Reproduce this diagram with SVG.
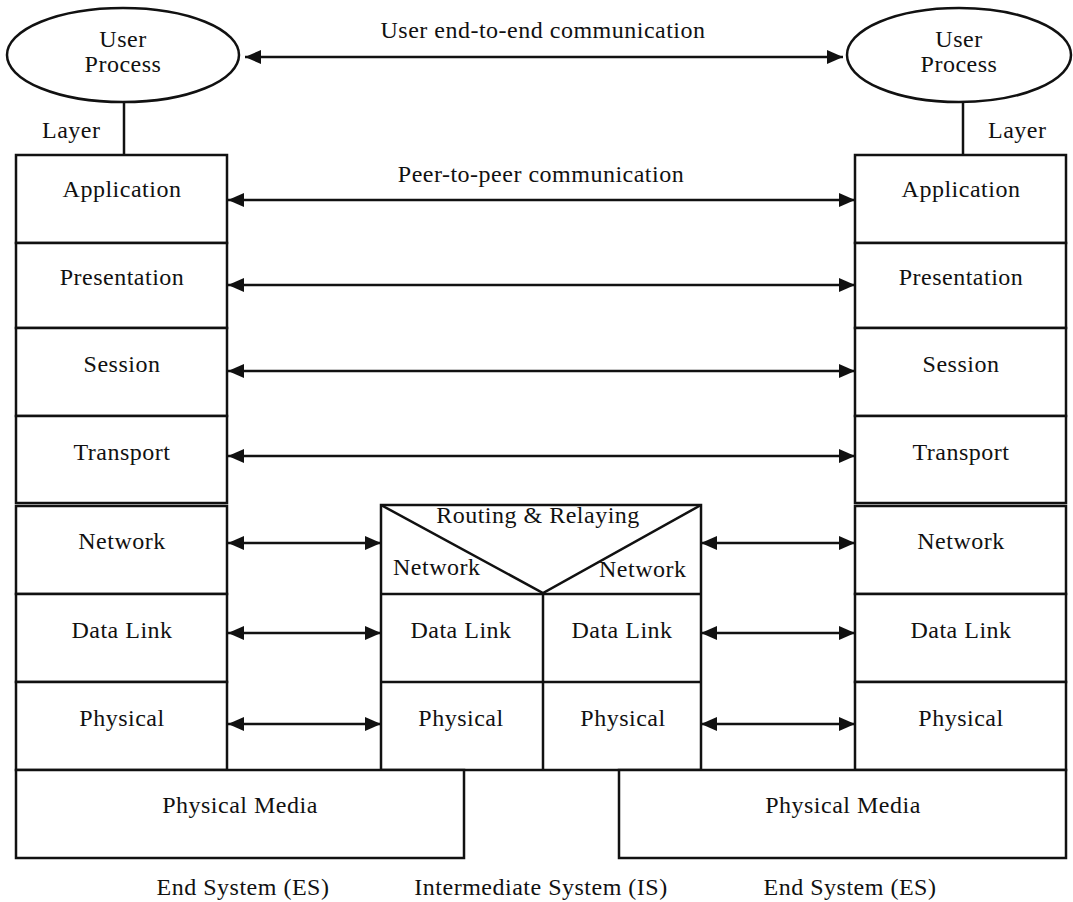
<svg xmlns="http://www.w3.org/2000/svg" width="1073" height="902" viewBox="0 0 1073 902">
  <style>
    text { font-family: "Liberation Serif", "Times New Roman", serif; font-size: 24px; letter-spacing: 0.5px; fill: #111; }
    .c { text-anchor: middle; }
    .box { fill: #fff; stroke: #111; stroke-width: 2.5; }
    .ln { fill: none; stroke: #111; stroke-width: 2.5; }
    .thin { fill: none; stroke: #333; stroke-width: 1.5; }
    .arr { fill: none; stroke: #111; stroke-width: 2.5; marker-start: url(#head); marker-end: url(#head); }
  </style>
  <defs>
    <marker id="head" markerUnits="userSpaceOnUse" markerWidth="18" markerHeight="16" refX="16" refY="7" orient="auto-start-reverse">
      <path d="M0,0 L16,7 L0,14 Z" fill="#111"/>
    </marker>
  </defs>

  <rect width="1073" height="902" fill="#fff"/>

  <!-- user processes -->
  <g id="user-left">
    <ellipse cx="123" cy="55" rx="116" ry="47" class="box"/>
    <text x="123" y="47" class="c">User</text>
    <text x="123" y="72" class="c">Process</text>
    <line x1="124" y1="102" x2="124" y2="155" class="ln"/>
    <text x="42" y="138">Layer</text>
  </g>
  <g id="user-right">
    <ellipse cx="959" cy="55" rx="112" ry="47" class="box"/>
    <text x="959" y="47" class="c">User</text>
    <text x="959" y="72" class="c">Process</text>
    <line x1="963" y1="102" x2="963" y2="155" class="ln"/>
    <text x="988" y="138">Layer</text>
  </g>

  <!-- common bottom edge -->
  <line x1="16" y1="770" x2="1066" y2="770" class="thin"/>

  <!-- left end system stack -->
  <g id="es-left">
    <rect x="16" y="155" width="211" height="88" class="box"/>
    <rect x="16" y="243" width="211" height="85" class="box"/>
    <rect x="16" y="328" width="211" height="88" class="box"/>
    <rect x="16" y="416" width="211" height="87" class="box"/>
    <rect x="16" y="506" width="211" height="88" class="box"/>
    <rect x="16" y="594" width="211" height="88" class="box"/>
    <rect x="16" y="682" width="211" height="88" class="box"/>
    <text x="122" y="197" class="c">Application</text>
    <text x="122" y="285" class="c">Presentation</text>
    <text x="122" y="372" class="c">Session</text>
    <text x="122" y="460" class="c">Transport</text>
    <text x="122" y="549" class="c">Network</text>
    <text x="122" y="638" class="c">Data Link</text>
    <text x="122" y="726" class="c">Physical</text>
  </g>

  <!-- right end system stack -->
  <g id="es-right">
    <rect x="855" y="155" width="211" height="88" class="box"/>
    <rect x="855" y="243" width="211" height="85" class="box"/>
    <rect x="855" y="328" width="211" height="88" class="box"/>
    <rect x="855" y="416" width="211" height="87" class="box"/>
    <rect x="855" y="506" width="211" height="88" class="box"/>
    <rect x="855" y="594" width="211" height="88" class="box"/>
    <rect x="855" y="682" width="211" height="88" class="box"/>
    <text x="961" y="197" class="c">Application</text>
    <text x="961" y="285" class="c">Presentation</text>
    <text x="961" y="372" class="c">Session</text>
    <text x="961" y="460" class="c">Transport</text>
    <text x="961" y="549" class="c">Network</text>
    <text x="961" y="638" class="c">Data Link</text>
    <text x="961" y="726" class="c">Physical</text>
  </g>

  <!-- intermediate system -->
  <g id="is">
    <rect x="381" y="505" width="320" height="265" class="box"/>
    <path d="M381,505 L543,593 L701,505" class="ln"/>
    <line x1="381" y1="594" x2="701" y2="594" class="ln"/>
    <line x1="381" y1="682" x2="701" y2="682" class="ln"/>
    <line x1="543" y1="594" x2="543" y2="770" class="ln"/>
    <text x="538" y="523" class="c">Routing &amp; Relaying</text>
    <text x="393" y="575">Network</text>
    <text x="599" y="577">Network</text>
    <text x="461" y="638" class="c">Data Link</text>
    <text x="622" y="638" class="c">Data Link</text>
    <text x="461" y="726" class="c">Physical</text>
    <text x="623" y="726" class="c">Physical</text>
  </g>

  <!-- physical media -->
  <g id="media-left">
    <rect x="16" y="770" width="448" height="88" class="box"/>
    <text x="240" y="813" class="c">Physical Media</text>
  </g>
  <g id="media-right">
    <rect x="619" y="770" width="447" height="88" class="box"/>
    <text x="843" y="813" class="c">Physical Media</text>
  </g>

  <!-- connectors -->
  <g id="connectors">
    <line x1="245" y1="57" x2="843" y2="57" class="arr"/>
    <line x1="228" y1="200" x2="855" y2="200" class="arr"/>
    <line x1="228" y1="285" x2="855" y2="285" class="arr"/>
    <line x1="228" y1="371" x2="855" y2="371" class="arr"/>
    <line x1="228" y1="456" x2="855" y2="456" class="arr"/>
    <line x1="228" y1="543" x2="381" y2="543" class="arr"/>
    <line x1="228" y1="633" x2="381" y2="633" class="arr"/>
    <line x1="228" y1="724" x2="381" y2="724" class="arr"/>
    <line x1="701" y1="543" x2="855" y2="543" class="arr"/>
    <line x1="701" y1="633" x2="855" y2="633" class="arr"/>
    <line x1="701" y1="724" x2="855" y2="724" class="arr"/>
  </g>

  <!-- captions -->
  <text x="543" y="38" class="c">User end-to-end communication</text>
  <text x="541" y="182" class="c">Peer-to-peer communication</text>
  <text x="243" y="895" class="c">End System (ES)</text>
  <text x="541" y="895" class="c">Intermediate System (IS)</text>
  <text x="850" y="895" class="c">End System (ES)</text>
</svg>
